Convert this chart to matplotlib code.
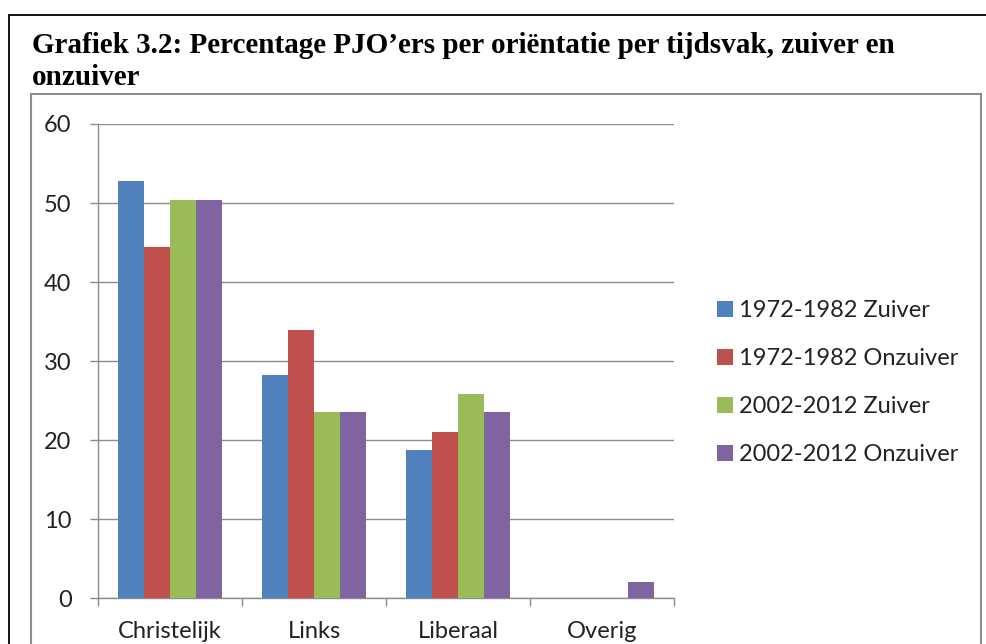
import matplotlib
matplotlib.use("Agg")
import matplotlib.pyplot as plt
from matplotlib.patches import Rectangle, Patch
import numpy as np

categories = ["Christelijk", "Links", "Liberaal", "Overig"]
series_names = ["1972-1982 Zuiver", "1972-1982 Onzuiver", "2002-2012 Zuiver", "2002-2012 Onzuiver"]
zuiver_1972 = [52.8, 28.2, 18.8, 0.0]
onzuiver_1972 = [44.5, 34.0, 21.0, 0.0]
zuiver_2002 = [50.4, 23.6, 25.8, 0.0]
onzuiver_2002 = [50.4, 23.6, 23.6, 2.1]
yticks = [0, 10, 20, 30, 40, 50, 60]
colors = ["#4F81BD", "#C0504D", "#9BBB59", "#8064A2"]

W, H = 986, 644
DPI = 100
fig = plt.figure(figsize=(W / DPI, H / DPI), dpi=DPI)
fig.patch.set_facecolor("white")

def fx(px):
    return px / W

def fy(py):
    return 1 - py / H

# outer black frame (extends beyond bottom/right)
fig.patches.append(Rectangle((fx(9), fy(700)), fx(1100) - fx(9), fy(15) - fy(700),
                             transform=fig.transFigure, fill=False, edgecolor="black",
                             linewidth=1.3, zorder=0))
# inner gray chart frame
fig.patches.append(Rectangle((fx(31), fy(700)), fx(981) - fx(31), fy(94) - fy(700),
                             transform=fig.transFigure, fill=False, edgecolor="#8c8c8c",
                             linewidth=1.5, zorder=0))

title_font = dict(family="Liberation Serif", weight="bold", fontsize=21, color="black")
fig.text(fx(32), fy(53), "Grafiek 3.2: Percentage PJO\u2019ers per ori\u00ebntatie per tijdsvak, zuiver en",
         va="baseline", ha="left", **title_font)
fig.text(fx(32), fy(85), "onzuiver", va="baseline", ha="left", **title_font)

ax = fig.add_axes([fx(98), fy(598.3), fx(674) - fx(98), fy(124) - fy(598.3)])

data = [zuiver_1972, onzuiver_1972, zuiver_2002, onzuiver_2002]
x = np.arange(len(categories))
bw = 0.182
for i, (vals, c, name) in enumerate(zip(data, colors, series_names)):
    ax.bar(x + (i - 1.5) * bw, vals, width=bw, color=c, label=name, zorder=3, linewidth=0)

ax.set_xlim(-0.5, 3.5)
ax.set_ylim(0, 60)
ax.set_yticks(yticks)
ax.set_yticklabels([str(v) for v in yticks])
ax.yaxis.grid(True, color="#8c8c8c", linewidth=1.0, zorder=0)
ax.set_axisbelow(True)

ax.set_xticks([-0.5, 0.5, 1.5, 2.5, 3.5])
ax.set_xticklabels([])
ax.set_xticks(x, minor=True)
ax.set_xticklabels(categories, minor=True)
ax.tick_params(axis="x", which="major", length=6, width=1, color="#8c8c8c", direction="out")
ax.tick_params(axis="x", which="minor", length=0, pad=16)
ax.tick_params(axis="y", length=6, width=1, color="#8c8c8c", direction="out", pad=13)

for lab in ax.get_xticklabels(minor=True) + ax.get_yticklabels():
    lab.set_family("Lato")
    lab.set_fontsize(17)
    lab.set_color("#222222")

for s in ["top", "right"]:
    ax.spines[s].set_visible(False)
for s in ["left", "bottom"]:
    ax.spines[s].set_color("#8c8c8c")
    ax.spines[s].set_linewidth(1.0)

handles = [Patch(facecolor=c, edgecolor="none") for c in colors]
leg = fig.legend(handles, series_names, loc="upper left",
                 bbox_to_anchor=(fx(717), fy(300)), bbox_transform=fig.transFigure,
                 frameon=False, prop={"family": "Lato", "size": 17},
                 handlelength=0.68, handleheight=0.68, handletextpad=0.27,
                 labelspacing=1.15, borderpad=0, borderaxespad=0)
for t in leg.get_texts():
    t.set_color("#222222")

fig.savefig("out.png", dpi=DPI, facecolor="white")
